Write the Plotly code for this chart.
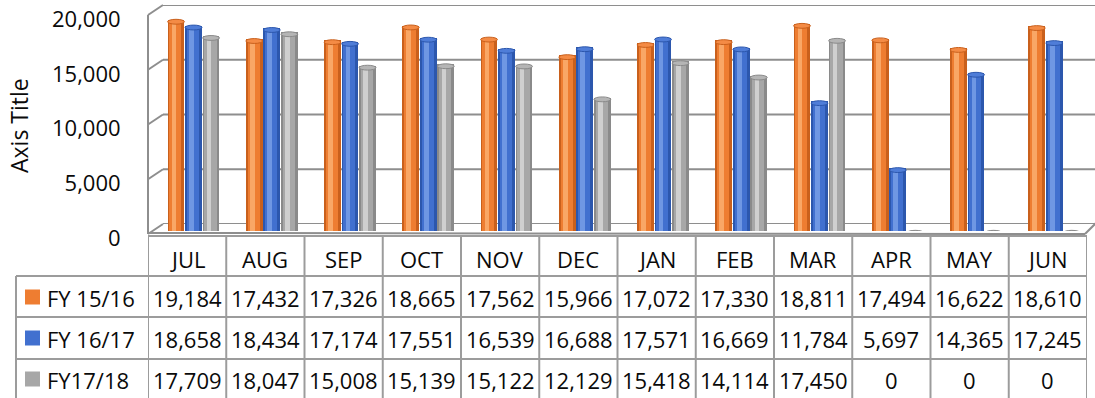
import plotly.graph_objects as go

# ---- data ----
months = ["JUL", "AUG", "SEP", "OCT", "NOV", "DEC", "JAN", "FEB", "MAR", "APR", "MAY", "JUN"]
series_names = ["FY 15/16", "FY 16/17", "FY17/18"]
fy1516 = [19184, 17432, 17326, 18665, 17562, 15966, 17072, 17330, 18811, 17494, 16622, 18610]
fy1617 = [18658, 18434, 17174, 17551, 16539, 16688, 17571, 16669, 11784, 5697, 14365, 17245]
fy1718 = [17709, 18047, 15008, 15139, 15122, 12129, 15418, 14114, 17450, 0, 0, 0]
y_ticks = [0, 5000, 10000, 15000, 20000]

W, H = 1095, 398
FONT = "Open Sans, Noto Sans, sans-serif"
FS = 22


def px(x):
    return x / W


def py(y):
    return 1 - y / H


# colour ramps for a cylinder look: edge, body, highlight, cap
palettes = [
    ("#c9601c", "#ee7d31", "#f9a766", "#f48b45"),
    ("#2c57ad", "#4170cf", "#6f97e3", "#4f7dd8"),
    ("#8a8a8a", "#a7a7a7", "#cfcfcf", "#b5b5b5"),
]
offsets = [-0.142, 0.082, 0.306]
bar_w = 0.215
values = [fy1516, fy1617, fy1718]

fig = go.Figure()
xs = list(range(len(months)))
shapes = []
for s, (vals, pal, off) in enumerate(zip(values, palettes, offsets)):
    edge, body, hi, cap = pal
    layers = [(bar_w, edge, 0.0), (bar_w * 0.72, body, -0.008), (bar_w * 0.28, hi, -0.025)]
    for w, col, dx in layers:
        fig.add_trace(go.Bar(
            x=[i + off + dx for i in xs], y=vals, width=w,
            marker=dict(color=col, line=dict(width=0)),
            name=series_names[s], showlegend=False, hoverinfo="skip",
            xaxis="x", yaxis="y",
        ))
    # elliptical top caps (flat disks when the value is zero)
    for i, v in enumerate(vals):
        shapes.append(dict(
            type="circle", xref="x", yref="y",
            x0=i + off - bar_w / 2, x1=i + off + bar_w / 2,
            y0=v - 380, y1=v + 60,
            fillcolor=cap if v > 0 else "#8f8f8f",
            line=dict(color=edge, width=1),
            layer="above",
        ))

# value-axis scale (labels only) sits on its own subplot
fig.add_trace(go.Scatter(x=[0, 1], y=[0, 20000], xaxis="x3", yaxis="y3",
                         mode="markers", marker=dict(opacity=0),
                         showlegend=False, hoverinfo="skip"))

GRID = "#8e8e8e"
TABLE = "#9c9c9c"

# back wall gridlines
for t in y_ticks:
    shapes.append(dict(type="line", xref="paper", yref="y2",
                       x0=px(163), x1=1, y0=t, y1=t,
                       line=dict(color=GRID, width=2), layer="below"))
    # side-wall diagonals from front edge to back wall
    yb = 224 - t / 20000 * (224 - 5)
    shapes.append(dict(type="line", xref="paper", yref="paper",
                       x0=px(148), y0=py(yb + 10), x1=px(163), y1=py(yb),
                       line=dict(color=GRID, width=2), layer="below"))
# front-left wall edge
shapes.append(dict(type="line", xref="paper", yref="paper",
                   x0=px(148), x1=px(148), y0=py(15), y1=py(234),
                   line=dict(color=GRID, width=2), layer="below"))
# floor front edge and right-hand diagonal
shapes.append(dict(type="line", xref="paper", yref="paper",
                   x0=px(148), x1=px(1085), y0=py(233), y1=py(234),
                   line=dict(color=GRID, width=2), layer="below"))
shapes.append(dict(type="line", xref="paper", yref="paper",
                   x0=px(1085), x1=px(1096), y0=py(234), y1=py(223),
                   line=dict(color=GRID, width=2), layer="below"))

# data table grid
row_edges = [236, 276, 317, 359, 399]
for k in range(len(months) + 1):
    shapes.append(dict(type="line", xref="x", yref="paper",
                       x0=k - 0.5, x1=k - 0.5, y0=py(236), y1=py(399),
                       line=dict(color=TABLE, width=2)))
shapes.append(dict(type="line", xref="paper", yref="paper",
                   x0=px(16), x1=px(16), y0=py(276), y1=py(399),
                   line=dict(color=TABLE, width=2)))
shapes.append(dict(type="line", xref="x", yref="paper",
                   x0=-0.5, x1=11.5, y0=py(236), y1=py(236),
                   line=dict(color=TABLE, width=2)))
for r in row_edges[1:4]:
    shapes.append(dict(type="line", xref="paper", yref="paper",
                       x0=px(16), x1=px(1087), y0=py(r), y1=py(r),
                       line=dict(color=TABLE, width=2)))

annotations = []
row_centres = [259, 298, 339, 380]
txt_font = dict(family=FONT, size=FS, color="#0a0a0a")
for i, m in enumerate(months):
    annotations.append(dict(text=m, x=i, xref="x", y=py(row_centres[0]), yref="paper",
                            showarrow=False, xanchor="center", yanchor="middle",
                            font=txt_font))
for s, vals in enumerate(values):
    yc = row_centres[s + 1]
    for i, v in enumerate(vals):
        annotations.append(dict(text=f"{v:,}", x=i, xref="x", y=py(yc), yref="paper",
                                showarrow=False, xanchor="center", yanchor="middle",
                                font=txt_font))
    # legend key and label
    shapes.append(dict(type="rect", xref="paper", yref="paper",
                       x0=px(25), x1=px(40), y0=py(yc - 8.5), y1=py(yc + 6.5),
                       fillcolor=palettes[s][1], line=dict(width=0)))
    annotations.append(dict(text=series_names[s], x=px(45), xref="paper", y=py(yc), yref="paper",
                            showarrow=False, xanchor="left", yanchor="middle",
                            font=txt_font))

annotations.append(dict(text="Axis Title", x=px(19), xref="paper", y=py(126), yref="paper",
                        showarrow=False, textangle=-90, xanchor="center", yanchor="middle",
                        font=dict(family=FONT, size=23, color="#0a0a0a")))

fig.update_layout(
    width=W, height=H,
    margin=dict(l=0, r=0, t=0, b=0, pad=0, autoexpand=False),
    paper_bgcolor="white", plot_bgcolor="rgba(0,0,0,0)",
    barmode="overlay", bargap=0,
    showlegend=False,
    xaxis=dict(domain=[px(148), px(1087)], range=[-0.5, 11.5],
               visible=False, fixedrange=True, automargin=False),
    yaxis=dict(domain=[py(231), py(11)], range=[0, 20000],
               visible=False, fixedrange=True, automargin=False),
    xaxis2=dict(domain=[px(163), 1], range=[0, 1], anchor="y2", visible=False,
                automargin=False),
    yaxis2=dict(domain=[py(224), py(5)], range=[0, 20000], anchor="x2", visible=False,
                automargin=False),
    xaxis3=dict(domain=[px(148), px(1087)], range=[0, 1], anchor="y3", visible=False,
                automargin=False),
    yaxis3=dict(domain=[py(238), py(19.5)], range=[0, 20000], anchor="x3",
                tickvals=y_ticks, tickformat=",d", automargin=False,
                ticks="outside", ticklen=22, tickcolor="rgba(0,0,0,0)",
                showgrid=False, zeroline=False, showline=False,
                tickfont=txt_font),
    shapes=shapes,
    annotations=annotations,
)

fig.write_html("out.html")
